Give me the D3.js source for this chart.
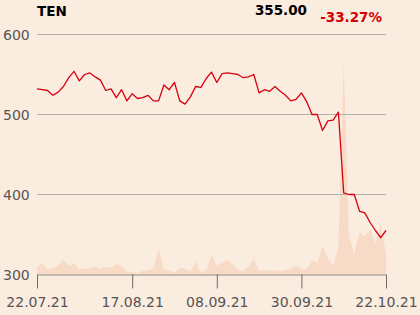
<!DOCTYPE html>
<html>
<head>
<meta charset="utf-8">
<script src="https://cdn.jsdelivr.net/npm/d3@7"></script>
<style>
  html, body { margin: 0; padding: 0; background: #fbece0; }
  svg { display: block; font-family: "DejaVu Sans", sans-serif; }
</style>
</head>
<body>
<div id="chart"></div>
<script>
const symbol = "TEN";
const lastPrice = "355.00";
const change = "-33.27%";

// closing prices, one per trading day 22.07.21 .. 22.10.21
const prices = [532, 531, 530, 524, 528, 535, 546, 554, 542, 550,
  552, 547, 543, 530, 532, 521, 531, 517, 526, 520,
  521, 524, 517, 517, 537, 531, 540, 517, 513, 522,
  535, 534, 545, 553, 540, 551, 552, 551, 550, 546,
  547, 550, 527, 531, 529, 535, 529, 524, 517, 519,
  527, 516, 500, 500, 480, 492, 493, 503, 402, 400,
  400, 379, 377, 365, 355, 346, 355];

// traded volume (thousands)
const volumes = [73, 110, 50, 63, 90, 150, 90, 110, 50, 60,
  63, 77, 57, 80, 67, 103, 90, 27, 20, 13,
  40, 40, 67, 257, 53, 43, 17, 67, 57, 33,
  127, 17, 43, 200, 90, 117, 150, 100, 50, 33,
  83, 157, 40, 37, 43, 40, 37, 43, 63, 90,
  57, 53, 143, 117, 277, 167, 83, 280, 2130, 380,
  205, 420, 380, 450, 310, 505, 210];

const tickIndex = [0, 18, 34, 50, 66];
const tickLabels = ["22.07.21", "17.08.21", "08.09.21", "30.09.21", "22.10.21"];
const yTicks = [300, 400, 500, 600];

const width = 420, height = 315;
const margin = {top: 34.5, right: 34, bottom: 40.5, left: 37};

const svg = d3.select("#chart")
    .append("svg")
    .attr("width", width)
    .attr("height", height);

const x = d3.scaleLinear()
    .domain([0, prices.length - 1])
    .range([margin.left, width - margin.right]);

const y = d3.scaleLinear()
    .domain([300, 600])
    .range([height - margin.bottom, margin.top]);

const yVol = d3.scaleLinear()
    .domain([0, 2400])
    .range([y(300), y(600)]);

// volume area
const area = d3.area()
    .x((d, i) => x(i))
    .y0(y(300))
    .y1(d => yVol(d));

svg.append("path")
    .datum(volumes)
    .attr("fill", "#f8dbc6")
    .attr("d", area);

// grid lines
svg.append("g")
    .selectAll("line")
    .data(yTicks.filter(d => d != 300))
    .join("line")
    .attr("x1", x(0))
    .attr("x2", x(prices.length - 1))
    .attr("y1", d => y(d))
    .attr("y2", d => y(d))
    .attr("stroke", "#b5b0ab")
    .attr("stroke-width", 1);

// y labels
svg.append("g")
    .selectAll("text")
    .data(yTicks)
    .join("text")
    .attr("x", 3)
    .attr("y", d => y(d) + 5)
    .attr("fill", "#555")
    .style("font-size", "14px")
    .text(d => d);

// x axis
const xAxis = svg.append("g")
    .attr("transform", `translate(0, ${y(300)})`)
    .call(d3.axisBottom(x)
        .tickValues(tickIndex)
        .tickFormat((d, i) => tickLabels[i])
        .tickSize(14)
        .tickSizeOuter(0)
        .tickPadding(9));

xAxis.select(".domain").attr("stroke", "#8c8884");
xAxis.selectAll(".tick line").attr("stroke", "#6f6b68");
xAxis.selectAll(".tick text")
    .attr("fill", "#555")
    .style("font-family", "DejaVu Sans, sans-serif")
    .style("font-size", "14px");

// price line
const line = d3.line()
    .x((d, i) => x(i))
    .y(d => y(d));

svg.append("path")
    .datum(prices)
    .attr("fill", "none")
    .attr("stroke", "#d7000f")
    .attr("stroke-width", 1.3)
    .attr("stroke-linejoin", "round")
    .attr("d", line);

// header
svg.append("text")
    .attr("x", 37)
    .attr("y", 16)
    .style("font-size", "13.5px")
    .style("font-weight", "bold")
    .attr("fill", "#000")
    .text(symbol);

svg.append("text")
    .attr("x", 307)
    .attr("y", 15)
    .attr("text-anchor", "end")
    .style("font-size", "13.5px")
    .style("font-weight", "bold")
    .attr("fill", "#000")
    .text(lastPrice);

svg.append("text")
    .attr("x", 382)
    .attr("y", 22)
    .attr("text-anchor", "end")
    .style("font-size", "13.5px")
    .style("font-weight", "bold")
    .attr("fill", "#d40000")
    .text(change);
</script>
</body>
</html>
